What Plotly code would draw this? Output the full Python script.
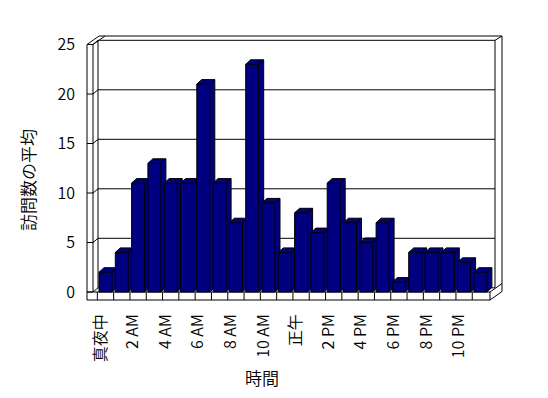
import plotly.graph_objects as go

# ---- data ----
hours = list(range(24))
visits = [2, 4, 11, 13, 11, 11, 21, 11, 7, 23, 9, 4, 8, 6, 11, 7, 5, 7, 1, 4, 4, 4, 3, 2]
tick_hours = hours[::2]
tick_labels = ["真夜中", "2 AM", "4 AM", "6 AM", "8 AM", "10 AM", "正午",
               "2 PM", "4 PM", "6 PM", "8 PM", "10 PM"]
y_ticks = [0, 5, 10, 15, 20, 25]
x_title = "時間"
y_title = "訪問数の平均"

# ---- geometry (pixel layout helpers) ----
W, H = 548, 398
CX0, CXU = 105.5, 16.3      # px of category 0 centre, px per category
CY0, CYU = 292.0, 9.9       # px of value 0 on front plane, px per unit
PL, PR, PT, PB = 80, 508, 30, 306   # plot area in px


def X(px):
    return (px - CX0) / CXU


def Y(py):
    return (CY0 - py) / CYU


NAVY = "#000080"
FONT = "Noto Sans CJK JP"
WEIGHT = 350
BAR_W = 13 / CXU
DX, DY = 5 / CXU, 4.5 / CYU
BACK_DY = 4.2  # px shift of back wall relative to front plane

fig = go.Figure()

# ---- bars drawn as 3D boxes through the data axes ----
for i, v in zip(hours, visits):
    L, R = i - BAR_W / 2, i + BAR_W / 2
    xs = [L, L, L + DX, R + DX, R + DX, R, L]
    ys = [0, v, v + DY, v + DY, DY, 0, 0]
    fig.add_trace(go.Scatter(x=xs, y=ys, mode="lines", fill="toself",
                             fillcolor=NAVY, line=dict(color="black", width=1),
                             hoverinfo="skip", showlegend=False))
    fig.add_trace(go.Scatter(x=[L, R, R, None, R, R + DX],
                             y=[v, v, 0, None, v, v + DY],
                             mode="lines", line=dict(color="black", width=1),
                             hoverinfo="skip", showlegend=False))

# ---- walls / floor / gridlines (chart furniture) ----
shapes = []


def poly(pts, fill=None):
    d = "M " + " L ".join(f"{X(px)},{Y(py)}" for px, py in pts) + " Z"
    shapes.append(dict(type="path", path=d, xref="x", yref="y", layer="below",
                       fillcolor=fill or "rgba(0,0,0,0)",
                       line=dict(color="black", width=1)))


def seg(p1, p2):
    shapes.append(dict(type="line", xref="x", yref="y", layer="below",
                       x0=X(p1[0]), y0=Y(p1[1]), x1=X(p2[0]), y1=Y(p2[1]),
                       line=dict(color="black", width=1)))


poly([(87, 300), (87, 44.5), (99, 36), (502, 36), (502, 291.5), (490, 300)], "white")
seg((93, 44.5), (93, 292))
seg((93, 44.5), (105, 36))
seg((98, 40.3), (98, 287.8))
seg((495, 40.3), (495, 287.8))
seg((495, 40.3), (502, 36))
seg((87, 292), (490, 292))
seg((490, 292), (490, 300))
seg((490, 292), (502, 283.5))
for i in range(24):
    px = CX0 - CXU / 2 + CXU * i
    seg((px, 292), (px, 300))
for v in y_ticks:
    yf = CY0 - CYU * v
    yb = yf - BACK_DY
    seg((98, yb), (495, yb))
    seg((87, yf), (93, yf))
    seg((93, yf), (98, yb))

annotations = [
    dict(text=x_title, x=(262 - PL) / (PR - PL), y=(PB - 377) / (PB - PT),
         xref="paper", yref="paper", showarrow=False, xanchor="center", yanchor="middle",
         font=dict(family=FONT, size=17, color="black", weight=WEIGHT)),
    dict(text=y_title, x=(27 - PL) / (PR - PL), y=(PB - 180) / (PB - PT),
         xref="paper", yref="paper", showarrow=False, xanchor="center", yanchor="middle",
         textangle=-90, font=dict(family=FONT, size=17, color="black", weight=WEIGHT)),
]

fig.update_layout(
    width=W, height=H,
    margin=dict(l=PL, r=W - PR, t=PT, b=H - PB, pad=0),
    paper_bgcolor="white", plot_bgcolor="white",
    shapes=shapes, annotations=annotations,
    showlegend=False,
    font=dict(family=FONT, size=16, color="black", weight=WEIGHT),
    xaxis=dict(range=[X(PL), X(PR)], tickmode="array", tickvals=tick_hours,
               ticktext=tick_labels, tickangle=-90, showgrid=False, zeroline=False,
               showline=False, ticks="", ticklabelstandoff=4, ticklabelshift=-5,
               tickfont=dict(family=FONT, size=16, color="black", weight=WEIGHT)),
    yaxis=dict(range=[Y(PB), Y(PT)], tickmode="array", tickvals=y_ticks,
               showgrid=False, zeroline=False, showline=False, ticks="",
               ticklabelstandoff=4,
               tickfont=dict(family=FONT, size=16, color="black", weight=WEIGHT)),
)

fig.write_html("out.html")
